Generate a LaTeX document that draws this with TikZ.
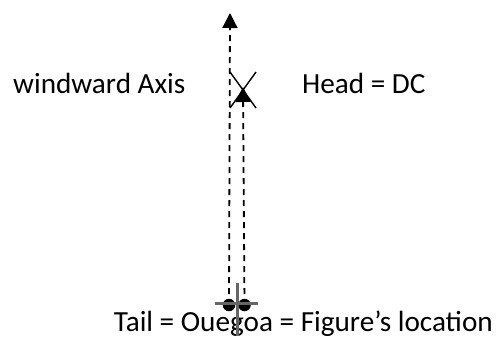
\documentclass[tikz,border=0pt]{standalone}
\usepackage{fontspec}
\setmainfont{Carlito}
\usetikzlibrary{arrows.meta}

\begin{document}
\begin{tikzpicture}[x=1pt,y=-1pt,
  label text/.style={inner sep=0pt, anchor=base west, font=\fontsize{29.2}{35}\selectfont},
  axis line/.style={line width=1.8pt, dash pattern=on 6pt off 5pt, -{Triangle[width=15pt,length=15pt]}},
  end dot/.style={circle, fill=black, inner sep=0pt, minimum size=12.5pt},
  marker/.style={draw=black!60, line width=3pt}]
  \useasboundingbox (0,0) rectangle (496,338);

  % Tail points (manual placement)
  \node [end dot] (tailL) at (229,305) {};
  \node [end dot] (tailR) at (244.5,305) {};
  \coordinate (headL) at (230,13);
  \coordinate (headR) at (243,87);

  % Head cross
  \coordinate (xa) at (230,72);
  \coordinate (xb) at (256,108);
  \coordinate (xc) at (256,72);
  \coordinate (xd) at (230,108);

  % Tail marker
  \coordinate (ma) at (215,303);
  \coordinate (mb) at (258,303);
  \coordinate (mc) at (237,283);
  \coordinate (md) at (237,336);

  % Labels
  \node [label text] (axis) at (13,93) {windward Axis};
  \node [label text] (head) at (302,93) {Head = DC};
  \node [label text, anchor=base east] (tail) at (493,331) {Tail = Ouegoa = Figure’s location};

  \draw [axis line] (tailL.center) -- (headL);
  \draw [axis line] (tailR.center) -- (headR);
  \draw [line width=1.4pt] (xa) -- (xb) (xc) -- (xd);
  \draw [marker] (ma) -- (mb) (mc) -- (md);
\end{tikzpicture}
\end{document}
